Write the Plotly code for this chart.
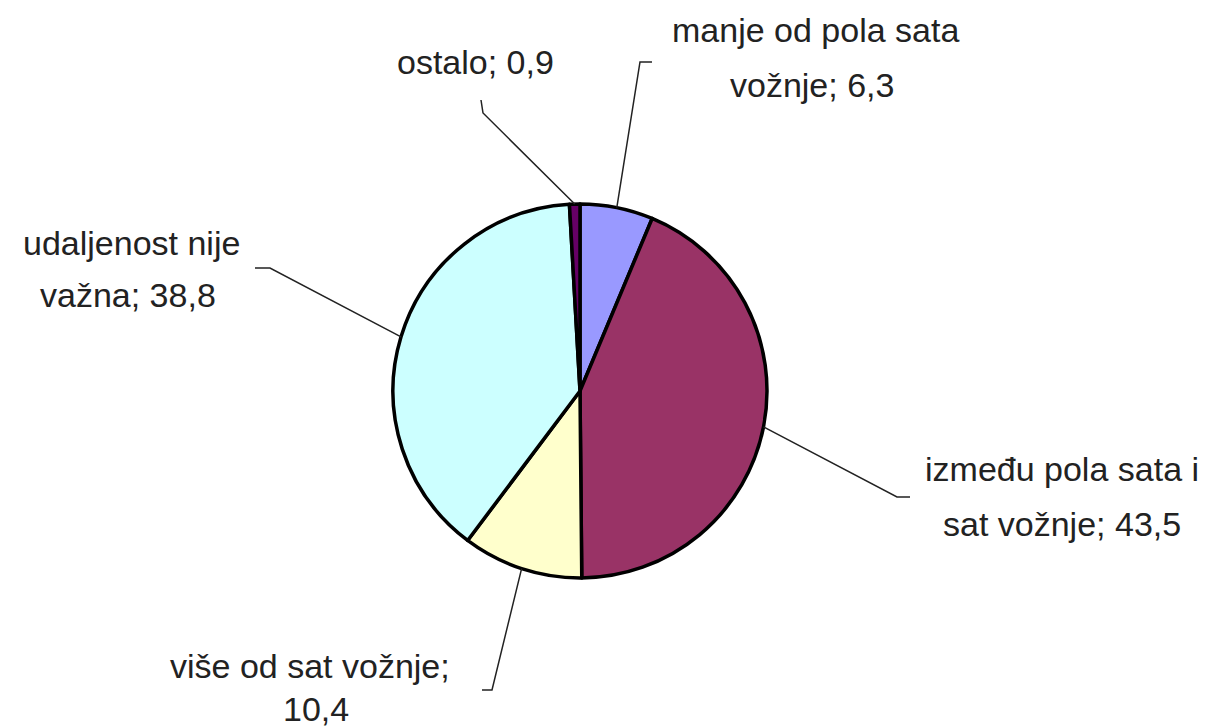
import math
import plotly.graph_objects as go

# data
categories = ["manje od pola sata vožnje", "između pola sata i sat vožnje",
              "više od sat vožnje", "udaljenost nije važna", "ostalo"]
values = [6.3, 43.5, 10.4, 38.8, 0.9]
colors = ["#9999FF", "#993366", "#FFFFCC", "#CCFFFF", "#660066"]
label_lines = [["manje od pola sata", "vožnje; 6,3"],
               ["između pola sata i", "sat vožnje; 43,5"],
               ["više od sat vožnje;", "10,4"],
               ["udaljenost nije", "važna; 38,8"],
               ["ostalo; 0,9"]]

W, H = 1218, 728
cx, cy, r = 580, 391, 187  # pie centre / radius in pixels

fig = go.Figure(go.Pie(
    labels=categories, values=values, sort=False, direction="clockwise",
    rotation=0, textinfo="none", hoverinfo="label+value",
    marker=dict(colors=colors, line=dict(color="black", width=3.5)),
    domain=dict(x=[(cx - r) / W, (cx + r) / W], y=[1 - (cy + r) / H, 1 - (cy - r) / H]),
    showlegend=False,
))

# label text positions (pixel centres of each line) and leader elbows
text_pos = [[(815, 30), (812, 85)],
            [(1062, 469), (1062, 524)],
            [(310, 666), (316, 709)],
            [(131, 243), (128, 295)],
            [(475, 62)]]
elbows = [[(640, 62), (652, 62)],
          [(897, 497), (910, 497)],
          [(492, 690), (482, 690)],
          [(270, 268), (255, 268)],
          [(483, 113), (481, 100)]]

def px(x, y):
    return x / W, 1 - y / H

total = sum(values)
cum = 0
for v, lines, pos, elb in zip(values, label_lines, text_pos, elbows):
    mid = (cum + v / 2) / total * 2 * math.pi
    cum += v
    sx = cx + r * math.sin(mid)
    sy = cy - r * math.cos(mid)
    pts = [(sx, sy)] + elb
    path = "M " + " L ".join(f"{px(x, y)[0]:.5f},{px(x, y)[1]:.5f}" for x, y in pts)
    fig.add_shape(type="path", path=path, xref="paper", yref="paper",
                  line=dict(color="#222222", width=1.5))
    for txt, (tx, ty) in zip(lines, pos):
        fig.add_annotation(text=txt, x=tx / W, y=1 - ty / H, xref="paper", yref="paper",
                           showarrow=False, xanchor="center", yanchor="middle",
                           font=dict(family="Liberation Sans, Arial", size=34, color="#222222"))

fig.update_layout(width=W, height=H, margin=dict(l=0, r=0, t=0, b=0),
                  paper_bgcolor="white", plot_bgcolor="white")
# drop the browser's default 8px body margin so the chart sits at the page corner
fig.write_html("out.html", config={"displayModeBar": False},
               post_script="document.body.style.margin='0';")
